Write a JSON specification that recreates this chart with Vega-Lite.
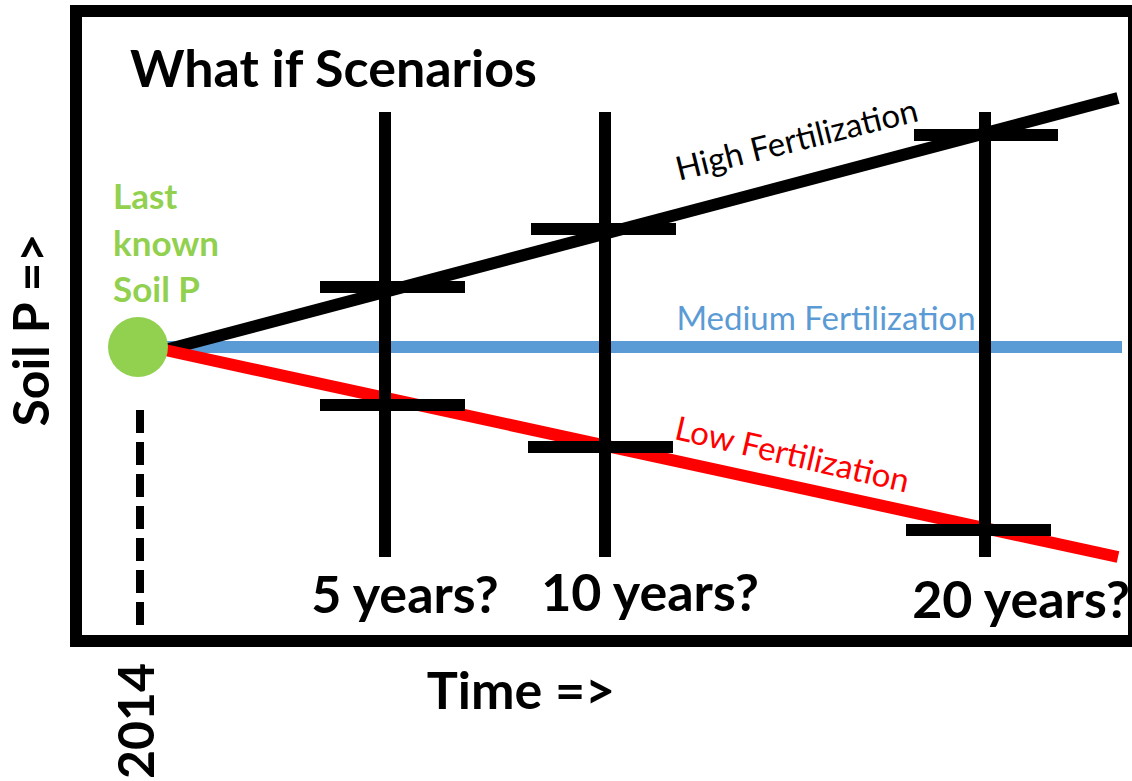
{
  "$schema": "https://vega.github.io/schema/vega-lite/v6.json",
  "width": 1132,
  "height": 781,
  "padding": 0,
  "autosize": {"type": "none"},
  "background": "white",
  "config": {"view": {"stroke": null}},
  "datasets": {
    "frame": [{"x0": 76, "y0": 11, "x1": 1134, "y1": 641}],
    "start": [{"x": 140, "y": 410, "y2": 630}],
    "trends": [
      {"scenario": "Medium", "x": 165, "y": 347, "x2": 1122, "y2": 347},
      {"scenario": "High", "x": 165, "y": 350, "x2": 1118, "y2": 98},
      {"scenario": "Low", "x": 165, "y": 350, "x2": 1118, "y2": 557}
    ],
    "probes": [
      {"when": "5 years", "x": 385, "y": 112, "y2": 557},
      {"when": "10 years", "x": 605, "y": 112, "y2": 557},
      {"when": "20 years", "x": 985, "y": 112, "y2": 557}
    ],
    "bars": [
      {"when": "5 years", "scenario": "High", "x": 320, "x2": 465, "y": 287},
      {"when": "5 years", "scenario": "Low", "x": 320, "x2": 465, "y": 405},
      {"when": "10 years", "scenario": "High", "x": 531, "x2": 676, "y": 229},
      {"when": "10 years", "scenario": "Low", "x": 528, "x2": 673, "y": 447},
      {"when": "20 years", "scenario": "High", "x": 914, "x2": 1058, "y": 135},
      {"when": "20 years", "scenario": "Low", "x": 906, "x2": 1051, "y": 530}
    ],
    "dot": [{"x": 138, "y": 347}],
    "labels": [
      {"kind": "title", "label": "What if Scenarios", "x": 130, "y": 87},
      {"kind": "green", "label": "Last", "x": 113, "y": 209},
      {"kind": "green", "label": "known", "x": 113, "y": 256},
      {"kind": "green", "label": "Soil P", "x": 113, "y": 302},
      {"kind": "high", "label": "High Fertilization", "x": 797, "y": 141},
      {"kind": "medium", "label": "Medium Fertilization", "x": 826, "y": 320},
      {"kind": "low", "label": "Low Fertilization", "x": 792, "y": 456},
      {"kind": "years", "label": "5 years?", "x": 405, "y": 613},
      {"kind": "years", "label": "10 years?", "x": 650, "y": 611},
      {"kind": "years", "label": "20 years?", "x": 1021, "y": 618},
      {"kind": "years", "label": "Time =>", "x": 521, "y": 709},
      {"kind": "vertical", "label": "2014", "x": 139, "y": 721},
      {"kind": "vertical", "label": "Soil P =>", "x": 34, "y": 330}
    ]
  },
  "layer": [
    {
      "data": {"name": "frame"},
      "mark": {"type": "rect", "fill": "white", "fillOpacity": 0, "stroke": "black", "strokeWidth": 12},
      "encoding": {
        "x": {"field": "x0", "type": "quantitative", "scale": {"domain": [0, 1132], "nice": false, "zero": false}, "axis": null},
        "x2": {"field": "x1"},
        "y": {"field": "y0", "type": "quantitative", "scale": {"domain": [0, 781], "nice": false, "zero": false, "reverse": true}, "axis": null},
        "y2": {"field": "y1"}
      }
    },
    {
      "data": {"name": "start"},
      "mark": {"type": "rule", "color": "black", "strokeWidth": 8, "strokeDash": [23, 9]},
      "encoding": {
        "x": {"field": "x", "type": "quantitative"},
        "y": {"field": "y", "type": "quantitative"},
        "y2": {"field": "y2"}
      }
    },
    {
      "data": {"name": "trends"},
      "mark": {"type": "rule", "strokeWidth": 12},
      "encoding": {
        "x": {"field": "x", "type": "quantitative"},
        "x2": {"field": "x2"},
        "y": {"field": "y", "type": "quantitative"},
        "y2": {"field": "y2"},
        "color": {"field": "scenario", "type": "nominal", "legend": null,
          "scale": {"domain": ["High", "Medium", "Low"], "range": ["#000000", "#5B9BD5", "#FF0000"]}}
      }
    },
    {
      "data": {"name": "probes"},
      "mark": {"type": "rule", "color": "black", "strokeWidth": 12},
      "encoding": {
        "x": {"field": "x", "type": "quantitative"},
        "y": {"field": "y", "type": "quantitative"},
        "y2": {"field": "y2"}
      }
    },
    {
      "data": {"name": "bars"},
      "mark": {"type": "rule", "color": "black", "strokeWidth": 12},
      "encoding": {
        "x": {"field": "x", "type": "quantitative"},
        "x2": {"field": "x2"},
        "y": {"field": "y", "type": "quantitative"}
      }
    },
    {
      "data": {"name": "dot"},
      "mark": {"type": "point", "shape": "circle", "filled": true, "color": "#92D050", "opacity": 1, "size": 3600},
      "encoding": {
        "x": {"field": "x", "type": "quantitative"},
        "y": {"field": "y", "type": "quantitative"}
      }
    },
    {
      "data": {"name": "labels"},
      "transform": [{"filter": "datum.kind === 'title'"}],
      "mark": {"type": "text", "font": "Lato", "fontWeight": "bold", "fontSize": 52, "align": "left", "baseline": "alphabetic", "color": "black"},
      "encoding": {
        "x": {"field": "x", "type": "quantitative"},
        "y": {"field": "y", "type": "quantitative"},
        "text": {"field": "label"}
      }
    },
    {
      "data": {"name": "labels"},
      "transform": [{"filter": "datum.kind === 'green'"}],
      "mark": {"type": "text", "font": "Lato", "fontWeight": "bold", "fontSize": 35, "align": "left", "baseline": "alphabetic", "color": "#92D050"},
      "encoding": {
        "x": {"field": "x", "type": "quantitative"},
        "y": {"field": "y", "type": "quantitative"},
        "text": {"field": "label"}
      }
    },
    {
      "data": {"name": "labels"},
      "transform": [{"filter": "datum.kind === 'high'"}],
      "mark": {"type": "text", "font": "Lato", "fontSize": 33, "align": "center", "baseline": "middle", "angle": 346, "color": "black"},
      "encoding": {
        "x": {"field": "x", "type": "quantitative"},
        "y": {"field": "y", "type": "quantitative"},
        "text": {"field": "label"}
      }
    },
    {
      "data": {"name": "labels"},
      "transform": [{"filter": "datum.kind === 'medium'"}],
      "mark": {"type": "text", "font": "Lato", "fontSize": 33, "align": "center", "baseline": "middle", "color": "#5B9BD5"},
      "encoding": {
        "x": {"field": "x", "type": "quantitative"},
        "y": {"field": "y", "type": "quantitative"},
        "text": {"field": "label"}
      }
    },
    {
      "data": {"name": "labels"},
      "transform": [{"filter": "datum.kind === 'low'"}],
      "mark": {"type": "text", "font": "Lato", "fontSize": 33, "align": "center", "baseline": "middle", "angle": 13, "color": "#FF0000"},
      "encoding": {
        "x": {"field": "x", "type": "quantitative"},
        "y": {"field": "y", "type": "quantitative"},
        "text": {"field": "label"}
      }
    },
    {
      "data": {"name": "labels"},
      "transform": [{"filter": "datum.kind === 'years'"}],
      "mark": {"type": "text", "font": "Lato", "fontWeight": "bold", "fontSize": 52, "align": "center", "baseline": "alphabetic", "color": "black"},
      "encoding": {
        "x": {"field": "x", "type": "quantitative"},
        "y": {"field": "y", "type": "quantitative"},
        "text": {"field": "label"}
      }
    },
    {
      "data": {"name": "labels"},
      "transform": [{"filter": "datum.kind === 'vertical'"}],
      "mark": {"type": "text", "font": "Lato", "fontWeight": "bold", "fontSize": 50, "align": "center", "baseline": "middle", "angle": 270, "color": "black"},
      "encoding": {
        "x": {"field": "x", "type": "quantitative"},
        "y": {"field": "y", "type": "quantitative"},
        "text": {"field": "label"}
      }
    }
  ]
}
